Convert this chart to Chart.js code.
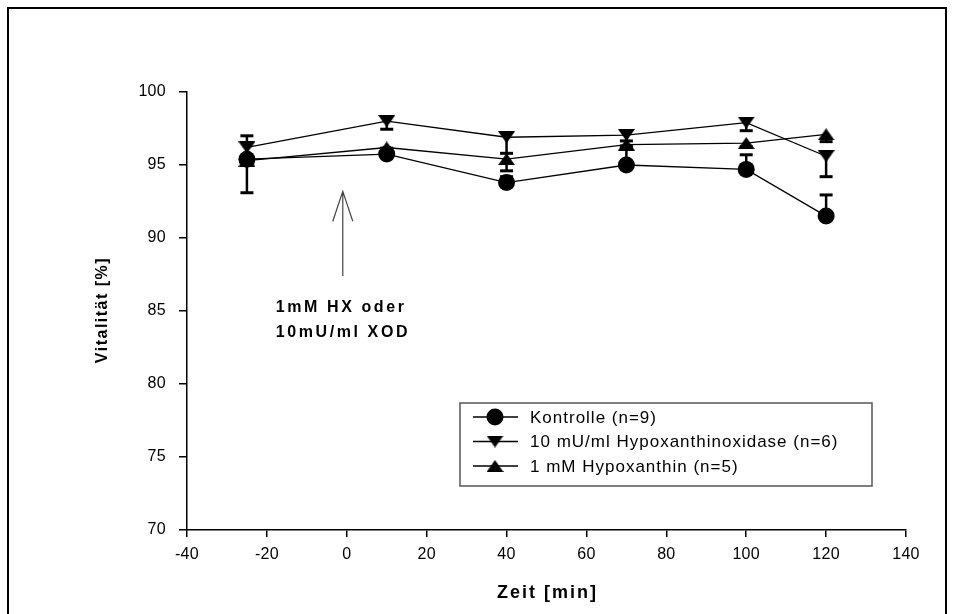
<!DOCTYPE html>
<html>
<head>
<meta charset="utf-8">
<script src="https://cdn.jsdelivr.net/npm/chart.js@4/dist/chart.umd.min.js"></script>
<style>
  html, body { margin: 0; padding: 0; background: #fff; }
  #wrap { width: 954px; height: 614px; }
</style>
</head>
<body>
<div id="wrap"><canvas id="chart" width="954" height="614"></canvas></div>
<script>
// Sampling times [min]
const times = [-25, 10, 40, 70, 100, 120];

// Vitalität [%] per group, error bars are one-sided
const kontrolle = [95.4, 95.75, 93.8, 95.0, 94.7, 91.5];
const kontrolleErr = [1.6, 0.4, 0.4, 1.3, 1.0, 1.45];   // upward
const hxod = [96.2, 98.0, 96.9, 97.05, 97.9, 95.6];
const hxodErr = [0.8, 0.55, 1.1, 0.4, 0.55, 1.4];       // downward
const hx = [95.3, 96.2, 95.4, 96.4, 96.5, 97.1];
const hxErr = [2.2, 0.3, 0.8, 0.2, 0.25, 0.5];          // downward

const seriesLabels = [
    'Kontrolle (n=9)',
    '10 mU/ml Hypoxanthinoxidase (n=6)',
    '1 mM Hypoxanthin (n=5)'
];

const xTitle = 'Zeit [min]';
const yTitle = 'Vitalität [%]';

// Arrow marking the addition of HX / XOD
const arrowX = -1;
const arrowFrom = 87.4;
const arrowTo = 93.2;
const noteLines = ['1mM HX oder', '10mU/ml XOD'];
const noteX = -17.8;
const noteY = [85.2, 83.5];

const FONT = '"Liberation Sans", Arial, sans-serif';

function triangleImage(down) {
    const w = 17, h = 12;
    const c = document.createElement('canvas');
    c.width = w;
    c.height = h;
    const g = c.getContext('2d');
    g.fillStyle = '#000';
    g.beginPath();
    if (down) {
        g.moveTo(0, 0); g.lineTo(w, 0); g.lineTo(w / 2, h);
    } else {
        g.moveTo(w / 2, 0); g.lineTo(w, h); g.lineTo(0, h);
    }
    g.closePath();
    g.fill();
    return c;
}

const downTri = triangleImage(true);
const upTri = triangleImage(false);

function toPoints(values) {
    return values.map((v, i) => ({ x: times[i], y: v }));
}

function series(label, values, pointStyle) {
    return {
        label,
        data: toPoints(values),
        borderColor: '#000',
        backgroundColor: '#000',
        borderWidth: 1.3,
        pointStyle,
        pointRadius: 8.5,
        pointBorderWidth: 0,
        pointBackgroundColor: '#000',
        tension: 0
    };
}

const errSets = [
    { values: kontrolle, errs: kontrolleErr, dir: 1 },
    { values: hxod, errs: hxodErr, dir: -1 },
    { values: hx, errs: hxErr, dir: -1 }
];

const errorBars = {
    id: 'errorBars',
    beforeDatasetsDraw(chart) {
        const { ctx, scales: { x, y } } = chart;
        ctx.save();
        ctx.strokeStyle = '#000';
        errSets.forEach(({ values, errs, dir }) => {
            values.forEach((v, i) => {
                const px = x.getPixelForValue(times[i]);
                const y0 = y.getPixelForValue(v);
                const y1 = y.getPixelForValue(v + dir * errs[i]);
                ctx.lineWidth = 2.5;
                ctx.beginPath();
                ctx.moveTo(px, y0);
                ctx.lineTo(px, y1);
                ctx.stroke();
                ctx.lineWidth = 3;
                ctx.beginPath();
                ctx.moveTo(px - 6.5, y1);
                ctx.lineTo(px + 6.5, y1);
                ctx.stroke();
            });
        });
        ctx.restore();
    }
};

const spacing = {
    id: 'spacing',
    beforeDraw(chart) {
        chart.ctx.letterSpacing = '0.3px';
    }
};

const extras = {
    id: 'extras',
    afterDraw(chart) {
        const { ctx, chartArea, scales: { x, y } } = chart;
        ctx.save();

        // outer frame
        ctx.strokeStyle = '#000';
        ctx.lineWidth = 2;
        ctx.beginPath();
        ctx.moveTo(8, 620);
        ctx.lineTo(8, 8);
        ctx.lineTo(946, 8);
        ctx.lineTo(946, 620);
        ctx.stroke();

        // axis titles
        ctx.fillStyle = '#000';
        ctx.textAlign = 'center';
        ctx.textBaseline = 'middle';
        ctx.font = 'bold 18px ' + FONT;
        ctx.letterSpacing = '2px';
        ctx.fillText(xTitle, (chartArea.left + chartArea.right) / 2 + 1, 593);
        ctx.save();
        ctx.translate(103, (chartArea.top + chartArea.bottom) / 2);
        ctx.rotate(-Math.PI / 2);
        ctx.font = 'bold 16px ' + FONT;
        ctx.letterSpacing = '1.5px';
        ctx.fillText(yTitle, 1, 0);
        ctx.restore();

        // arrow
        const ax = x.getPixelForValue(arrowX);
        const aTop = y.getPixelForValue(arrowTo);
        const aBot = y.getPixelForValue(arrowFrom);
        ctx.strokeStyle = '#444';
        ctx.lineWidth = 1.2;
        ctx.beginPath();
        ctx.moveTo(ax, aBot);
        ctx.lineTo(ax, aTop);
        ctx.moveTo(ax - 10, aTop + 30);
        ctx.lineTo(ax, aTop);
        ctx.lineTo(ax + 10, aTop + 30);
        ctx.stroke();

        ctx.font = 'bold 16px ' + FONT;
        ctx.letterSpacing = '2.6px';
        ctx.textAlign = 'left';
        noteLines.forEach((t, i) => {
            ctx.fillText(t, x.getPixelForValue(noteX), y.getPixelForValue(noteY[i]));
        });

        // legend box
        const lx = 460, ly = 403, lw = 412, lh = 83;
        ctx.strokeStyle = '#555';
        ctx.lineWidth = 1.5;
        ctx.strokeRect(lx, ly, lw, lh);
        ctx.font = '17px ' + FONT;
        ctx.letterSpacing = '1px';
        chart.data.datasets.forEach((ds, i) => {
            const ry = 417 + i * 24.5;
            ctx.strokeStyle = '#000';
            ctx.lineWidth = 1.3;
            ctx.beginPath();
            ctx.moveTo(473, ry);
            ctx.lineTo(518, ry);
            ctx.stroke();
            ctx.fillStyle = '#000';
            Chart.helpers.drawPoint(ctx, {
                pointStyle: ds.pointStyle,
                radius: ds.pointRadius,
                borderWidth: 0,
                rotation: 0
            }, 495, ry);
            ctx.fillText(ds.label, 530, ry + 1);
        });

        ctx.restore();
    }
};

new Chart(document.getElementById('chart'), {
    type: 'line',
    data: {
        datasets: [
            series(seriesLabels[0], kontrolle, 'circle'),
            series(seriesLabels[1], hxod, downTri),
            series(seriesLabels[2], hx, upTri)
        ]
    },
    options: {
        responsive: false,
        animation: false,
        events: [],
        layout: { padding: { left: 0, top: 92, right: 48, bottom: 0 } },
        plugins: {
            legend: { display: false },
            tooltip: { enabled: false }
        },
        scales: {
            x: {
                type: 'linear',
                min: -40,
                max: 140,
                afterFit: s => { s.height = 84; },
                ticks: {
                    stepSize: 20,
                    color: '#000',
                    padding: 8,
                    maxRotation: 0,
                    font: { family: FONT, size: 16 }
                },
                grid: {
                    drawOnChartArea: false,
                    color: '#000',
                    lineWidth: 1.5,
                    tickLength: 7
                },
                border: { color: '#000', width: 1.5 }
            },
            y: {
                min: 70,
                max: 100,
                afterFit: s => { s.width = 187; },
                ticks: {
                    stepSize: 5,
                    color: '#000',
                    padding: 13,
                    font: { family: FONT, size: 16 }
                },
                grid: {
                    drawOnChartArea: false,
                    color: '#000',
                    lineWidth: 1.5,
                    tickLength: 8
                },
                border: { color: '#000', width: 1.5 }
            }
        }
    },
    plugins: [spacing, errorBars, extras]
});
</script>
</body>
</html>
